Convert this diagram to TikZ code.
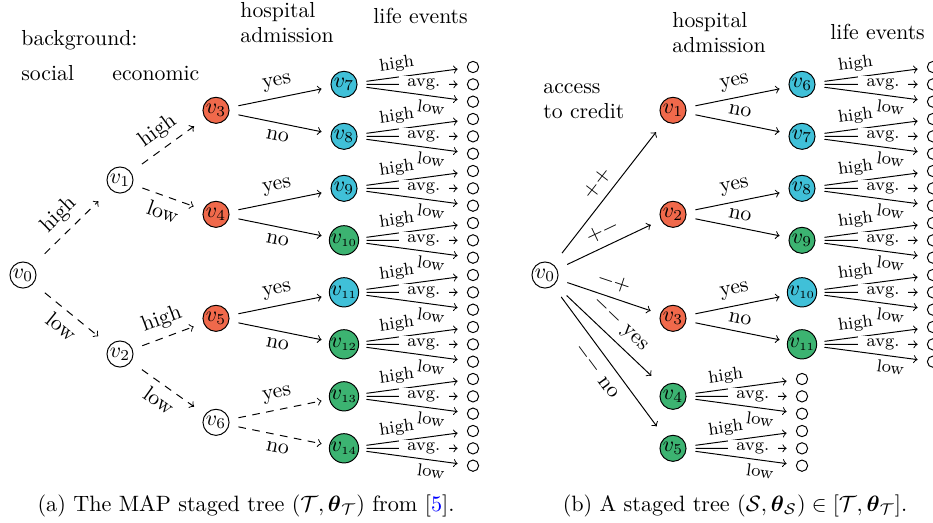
\documentclass[tikz,border=0pt]{standalone}
\usepackage{amsmath,amssymb}
\usetikzlibrary{arrows}
\definecolor{stred}{RGB}{240,105,75}
\definecolor{stcyan}{RGB}{64,192,216}
\definecolor{stgreen}{RGB}{60,179,113}
\tikzset{
 tnbox/.style={rectangle, minimum size=17.5pt, inner sep=0pt},
 tncirc/.style={circle, draw, line width=0.45pt, minimum size=12pt, inner sep=0pt},
 lfbox/.style={rectangle, minimum size=11pt, inner sep=0pt},
 lfcirc/.style={circle, draw, line width=0.45pt, minimum size=5.2pt, inner sep=0pt},
 tedge/.style={->, line width=0.45pt, shorten <=1.4pt, shorten >=1.4pt},
 dtedge/.style={tedge, dash pattern=on 3.5pt off 3pt},
 hl/.style={font=\footnotesize, sloped, inner sep=1pt, above=1pt, pos=0.36},
 al/.style={font=\footnotesize, fill=white, inner xsep=4pt, inner ysep=1pt, pos=0.62},
 ll/.style={font=\footnotesize, sloped, inner sep=1pt, below=1pt, pos=0.71},
 hdr/.style={anchor=base west, inner sep=0pt},
 ab/.style={above, sloped},
 be/.style={below, sloped},
}
\newcommand\stnode[5]{\node[tnbox] (#1) at (#2,#3) {}; \node[tncirc, fill=#4] (#1c) at (#1) {#5};}
\begin{document}
\begin{tikzpicture}[x=0.46pt,y=-0.46pt]
\useasboundingbox (0,0) rectangle (933,522);
% headers left
\node[hdr] (hbg) at (21,45) {background:};
\node[hdr] (hsoc) at (21,80) {social};
\node[hdr] (heco) at (112,80) {economic};
\node[hdr] (hhos) at (240,17) {hospital};
\node[hdr] (hadm) at (240,42) {admission};
\node[hdr] (hlife) at (373,23) {life events};
% headers right
\node[hdr] (racc) at (543,93) {access};
\node[hdr] (rcred) at (543,118) {to credit};
\node[hdr] (rhos) at (672,27) {hospital};
\node[hdr] (radm) at (672,52) {admission};
\node[hdr] (rlife) at (830,39) {life events};
% left tree nodes
\stnode{L0}{23}{275}{white}{$v_0$}
\stnode{L1}{120}{180}{white}{$v_1$}
\stnode{L2}{120}{354}{white}{$v_2$}
\stnode{L3}{216}{110.3}{stred}{$v_3$}
\stnode{L4}{216}{214.3}{stred}{$v_4$}
\stnode{L5}{216}{318.3}{stred}{$v_5$}
\stnode{L6}{216}{422.3}{white}{$v_6$}
\stnode{L7}{344}{84.3}{stcyan}{$v_7$}
\stnode{L8}{344}{136.3}{stcyan}{$v_8$}
\stnode{L9}{344}{188.3}{stcyan}{$v_9$}
\stnode{L10}{344}{240.3}{stgreen}{$v_{\scriptscriptstyle 10}$}
\stnode{L11}{344}{292.3}{stcyan}{$v_{\scriptscriptstyle 11}$}
\stnode{L12}{344}{344.3}{stgreen}{$v_{\scriptscriptstyle 12}$}
\stnode{L13}{344}{396.3}{stgreen}{$v_{\scriptscriptstyle 13}$}
\stnode{L14}{344}{448.3}{stgreen}{$v_{\scriptscriptstyle 14}$}
% left leaves
\foreach \i in {0,...,23} {\node[lfbox] (la\i) at (473,{67+17.333*\i}) {}; \node[lfcirc] (lac\i) at (la\i) {};}
% left edges
\draw[dtedge] (L0) -- node[ab]{high} (L1);
\draw[dtedge] (L0) -- node[be]{low} (L2);
\draw[dtedge] (L1) -- node[ab]{high} (L3);
\draw[dtedge] (L1) -- node[be]{low} (L4);
\draw[dtedge] (L2) -- node[ab]{high} (L5);
\draw[dtedge] (L2) -- node[be]{low} (L6);
\draw[tedge] (L3) -- node[ab]{yes} (L7);
\draw[tedge] (L3) -- node[be]{no} (L8);
\draw[tedge] (L4) -- node[ab]{yes} (L9);
\draw[tedge] (L4) -- node[be]{no} (L10);
\draw[tedge] (L5) -- node[ab]{yes} (L11);
\draw[tedge] (L5) -- node[be]{no} (L12);
\draw[dtedge] (L6) -- node[ab]{yes} (L13);
\draw[dtedge] (L6) -- node[be]{no} (L14);
\foreach \n in {7,...,14} {
 \pgfmathtruncatemacro\lia{3*(\n-7)}
 \pgfmathtruncatemacro\lib{\lia+1}
 \pgfmathtruncatemacro\lic{\lia+2}
 \draw[tedge] (L\n) -- node[hl]{high} (la\lia);
 \draw[tedge] (L\n) -- node[al]{avg.} (la\lib);
 \draw[tedge] (L\n) -- node[ll]{low} (la\lic);
}
% right tree nodes
\stnode{R0}{545}{275}{white}{$v_0$}
\stnode{R1}{673}{110.3}{stred}{$v_1$}
\stnode{R2}{673}{214.3}{stred}{$v_2$}
\stnode{R3}{673}{318.3}{stred}{$v_3$}
\stnode{R4}{673}{396.3}{stgreen}{$v_4$}
\stnode{R5}{673}{448.3}{stgreen}{$v_5$}
\stnode{R6}{802}{84.3}{stcyan}{$v_6$}
\stnode{R7}{802}{136.3}{stcyan}{$v_7$}
\stnode{R8}{802}{188.3}{stcyan}{$v_8$}
\stnode{R9}{802}{240.3}{stgreen}{$v_9$}
\stnode{R10}{802}{292.3}{stcyan}{$v_{\scriptscriptstyle 10}$}
\stnode{R11}{802}{344.3}{stgreen}{$v_{\scriptscriptstyle 11}$}
% right leaves
\foreach \i in {0,...,17} {\node[lfbox] (ra\i) at (933,{67+17.333*\i}) {}; \node[lfcirc] (rac\i) at (ra\i) {};}
\foreach \i in {0,...,5} {\node[lfbox] (rb\i) at (802,{379+17.333*\i}) {}; \node[lfcirc] (rbc\i) at (rb\i) {};}
% right edges
\draw[tedge] (R0) -- node[ab]{$++$} (R1);
\draw[tedge] (R0) -- node[ab]{$+-$} (R2);
\draw[tedge] (R0) -- node[ab]{$-+$} (R3);
\draw[tedge] (R0) -- node[ab]{$--$ yes} (R4);
\draw[tedge] (R0) -- node[be]{$--$ no} (R5);
\draw[tedge] (R1) -- node[ab]{yes} (R6);
\draw[tedge] (R1) -- node[ab]{no} (R7);
\draw[tedge] (R2) -- node[ab]{yes} (R8);
\draw[tedge] (R2) -- node[ab]{no} (R9);
\draw[tedge] (R3) -- node[ab]{yes} (R10);
\draw[tedge] (R3) -- node[ab]{no} (R11);
\foreach \n in {6,...,11} {
 \pgfmathtruncatemacro\lia{3*(\n-6)}
 \pgfmathtruncatemacro\lib{\lia+1}
 \pgfmathtruncatemacro\lic{\lia+2}
 \draw[tedge] (R\n) -- node[hl]{high} (ra\lia);
 \draw[tedge] (R\n) -- node[al]{avg.} (ra\lib);
 \draw[tedge] (R\n) -- node[ll]{low} (ra\lic);
}
\foreach \n in {4,5} {
 \pgfmathtruncatemacro\lia{3*(\n-4)}
 \pgfmathtruncatemacro\lib{\lia+1}
 \pgfmathtruncatemacro\lic{\lia+2}
 \draw[tedge] (R\n) -- node[hl]{high} (rb\lia);
 \draw[tedge] (R\n) -- node[al]{avg.} (rb\lib);
 \draw[tedge] (R\n) -- node[ll]{low} (rb\lic);
}
% captions
\node[anchor=base, inner sep=0pt, scale=1.02] (capa) at (246,511) {(a) The MAP staged tree $(\mathcal{T},\boldsymbol{\theta}_{\mathcal{T}})$ from [\textcolor{blue}{5}].};
\node[anchor=base, inner sep=0pt, scale=1.02] (capb) at (735,511) {(b) A staged tree $(\mathcal{S},\boldsymbol{\theta}_{\mathcal{S}})\in[\mathcal{T},\boldsymbol{\theta}_{\mathcal{T}}]$.};
\end{tikzpicture}
\end{document}
